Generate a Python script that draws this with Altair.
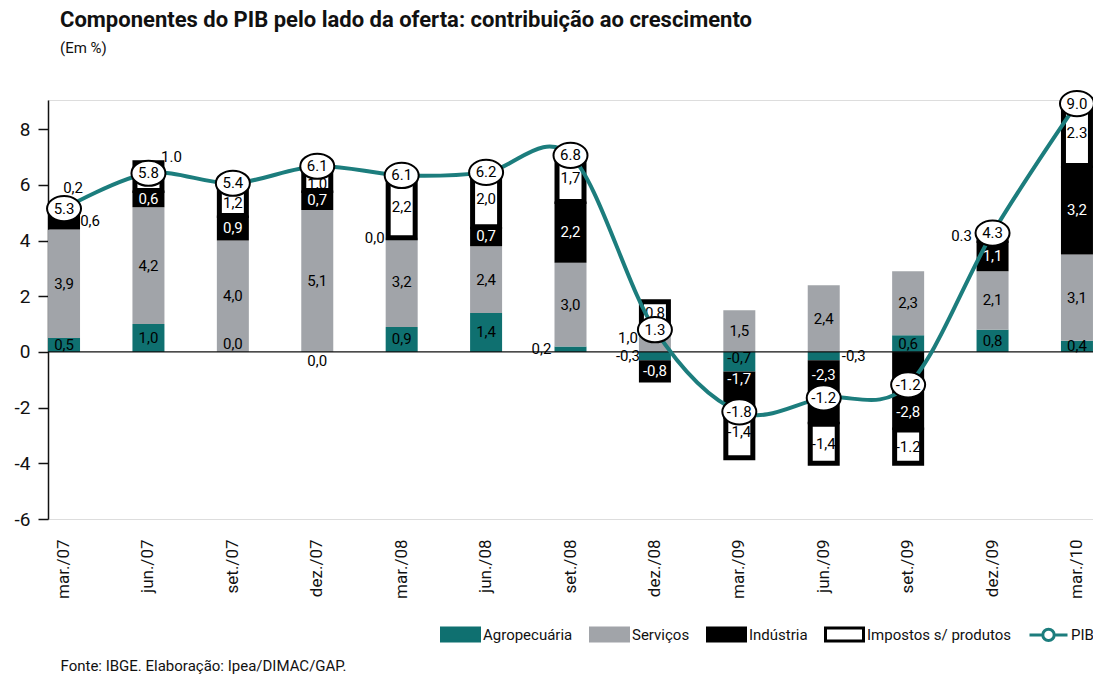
import altair as alt
import pandas as pd

# ---------------- data ----------------
periods = ["mar./07", "jun./07", "set./07", "dez./07", "mar./08", "jun./08", "set./08",
           "dez./08", "mar./09", "jun./09", "set./09", "dez./09", "mar./10"]
agro = [0.5, 1.0, 0.0, 0.0, 0.9, 1.4, 0.2, -0.3, -0.7, -0.3, 0.6, 0.8, 0.4]
serv = [3.9, 4.2, 4.0, 5.1, 3.2, 2.4, 3.0, 1.0, 1.5, 2.4, 2.3, 2.1, 3.1]
ind = [0.6, 0.6, 0.9, 0.7, 0.0, 0.7, 2.2, -0.8, -1.7, -2.3, -2.8, 1.1, 3.2]
imp = [0.2, 1.0, 1.2, 1.0, 2.2, 2.0, 1.7, 0.8, -1.4, -1.4, -1.2, 0.3, 2.3]
pib = [5.3, 5.8, 5.4, 6.1, 6.1, 6.2, 6.8, 1.3, -1.8, -1.2, -1.2, 4.3, 9.0]
pib_line = [5.15, 6.42, 6.06, 6.67, 6.34, 6.45, 7.06, 0.8, -2.15, -1.65, -1.18, 4.27, 8.92]

series_names = ["Agropecuária", "Serviços", "Indústria", "Impostos s/ produtos"]
legend_names = series_names + ["PIB"]

# ---------------- styles ----------------
FONT = "Roboto, Liberation Sans Narrow, sans-serif"
TEAL = "#0f7070"
LINE_TEAL = "#1c7d7d"
GRAY = "#a1a4a9"
bar_colors = {"Agropecuária": TEAL, "Serviços": GRAY, "Indústria": "#000000"}

dot_labels = {("jun./07", "Impostos s/ produtos"), ("set./09", "Impostos s/ produtos"),
              ("dez./09", "Impostos s/ produtos"), ("mar./10", "Impostos s/ produtos")}
# label placement (pixel offsets from the segment centre)
label_offsets = {
    ("mar./07", "Indústria"): (26, 0),
    ("mar./07", "Impostos s/ produtos"): (9, -22),
    ("jun./07", "Impostos s/ produtos"): (23, -20),
    ("set./07", "Agropecuária"): (0, -8),
    ("set./07", "Impostos s/ produtos"): (0, 4),
    ("dez./07", "Agropecuária"): (0, 9),
    ("dez./07", "Impostos s/ produtos"): (0, 7),
    ("mar./08", "Indústria"): (-27, 0),
    ("set./08", "Agropecuária"): (-29, 0),
    ("dez./08", "Serviços"): (-27, 0),
    ("dez./08", "Agropecuária"): (-27, 0),
    ("mar./09", "Agropecuária"): (0, -4),
    ("mar./09", "Indústria"): (0, -16),
    ("mar./09", "Impostos s/ produtos"): (0, -6),
    ("jun./09", "Agropecuária"): (30, 0),
    ("jun./09", "Indústria"): (0, -17),
    ("set./09", "Indústria"): (0, 21),
    ("dez./09", "Impostos s/ produtos"): (-31, 0),
}

# ---------------- stacked table ----------------
rows = []
for i, p in enumerate(periods):
    pos, neg = 0.0, 0.0
    for name, vals in zip(series_names, [agro, serv, ind, imp]):
        v = vals[i]
        if v >= 0:
            y0, y1 = pos, pos + v
            pos = y1
        else:
            y0, y1 = neg, neg + v
            neg = y1
        txt = f"{v:.1f}"
        if (p, name) not in dot_labels:
            txt = txt.replace(".", ",")
        off = label_offsets.get((p, name), (0, 0))
        lcolor = "white" if (name == "Indústria" and off[0] == 0) else "black"
        rows.append({"period": p, "series": name, "y0": y0, "y1": y1,
                     "ymid": (y0 + y1) / 2, "label": txt,
                     "dx": off[0], "dy": off[1], "lcolor": lcolor})
stack = pd.DataFrame(rows)

pib_df = pd.DataFrame({"period": periods, "line": pib_line,
                       "plabel": [f"{v:.1f}" for v in pib]})
legend_df = pd.DataFrame({"name": legend_names})

x_enc = alt.X("period:N", sort=periods,
              scale=alt.Scale(paddingInner=0.62, paddingOuter=0),
              axis=alt.Axis(labelAngle=-90, ticks=False, domain=False, labelPadding=20,
                            labelFontSize=17, labelFont=FONT, labelColor="#111",
                            title="Fonte: IBGE. Elaboração: Ipea/DIMAC/GAP.",
                            titleFont=FONT, titleFontSize=15, titleFontWeight="normal",
                            titleColor="#111", titleAnchor="start", titleAlign="left",
                            titleX=12, titleY=151, titleBaseline="alphabetic"))
y_scale = alt.Scale(domain=[-6, 9.05], nice=False, zero=False)
y_axis = alt.Axis(values=[-6, -4, -2, 0, 2, 4, 6, 8], grid=False, title=None,
                  labelExpr="'' + datum.value",
                  tickSize=10, tickColor="#111", domainColor="#111", domainWidth=1.5,
                  tickWidth=1.5, labelFontSize=19, labelFont=FONT, labelPadding=8,
                  labelColor="#111")

base = alt.Chart(stack)

layers = []
for name, col in bar_colors.items():
    layers.append(
        base.transform_filter(alt.datum.series == name)
        .mark_bar(size=32, color=col)
        .encode(x=x_enc, y=alt.Y("y0:Q", scale=y_scale, axis=y_axis), y2="y1:Q")
    )
layers.append(
    base.transform_filter(alt.datum.series == "Impostos s/ produtos")
    .mark_bar(size=27, fill="white", stroke="black", strokeWidth=5)
    .encode(x=x_enc, y=alt.Y("y0:Q", scale=y_scale, axis=y_axis), y2="y1:Q")
)

zero_rule = alt.Chart(pd.DataFrame({"z": [0]})).mark_rule(color="#111", strokeWidth=1.3).encode(
    y=alt.Y("z:Q", scale=y_scale, axis=y_axis))
layers.append(zero_rule)

# segment labels, one layer per placement/colour group
groups = stack[["dx", "dy", "lcolor"]].drop_duplicates().values.tolist()
for dx, dy, lc in groups:
    layers.append(
        base.transform_filter(
            (alt.datum.dx == dx) & (alt.datum.dy == dy) & (alt.datum.lcolor == lc))
        .mark_text(font=FONT, fontSize=15, color=lc, dx=dx, dy=dy, baseline="middle")
        .encode(x=x_enc, y=alt.Y("ymid:Q", scale=y_scale, axis=y_axis), text="label:N")
    )

pb = alt.Chart(pib_df)
layers.append(pb.mark_line(color=LINE_TEAL, strokeWidth=4, interpolate="cardinal").encode(
    x=x_enc, y=alt.Y("line:Q", scale=y_scale, axis=y_axis)))

ELLIPSE = "M-1,0A1,0.74 0 1,1 1,0A1,0.74 0 1,1 -1,0Z"
layers.append(pb.mark_point(shape=ELLIPSE, size=1156, filled=True, fill="white",
                            stroke="black", strokeWidth=2, opacity=1).encode(
    x=x_enc, y=alt.Y("line:Q", scale=y_scale, axis=y_axis)))
layers.append(pb.mark_text(font=FONT, fontSize=15, color="black", baseline="middle").encode(
    x=x_enc, y=alt.Y("line:Q", scale=y_scale, axis=y_axis), text="plabel:N"))

# legend (invisible points carrying the legend scales)
RECT = "M-1,-0.34H1V0.34H-1Z"
PIBSYM = "M-1,0H-0.3M0.3,0H1M-0.3,0A0.3,0.3 0 1,1 0.3,0A0.3,0.3 0 1,1 -0.3,0Z"
leg = alt.Legend(title=None, orient="none", legendX=392, legendY=514, direction="horizontal",
                 symbolSize=1444, symbolStrokeWidth=3, symbolOpacity=1, labelFont=FONT,
                 labelFontSize=15, labelColor="#111", labelOffset=2, columnPadding=11,
                 padding=0, symbolType="square")
layers.append(
    alt.Chart(legend_df).mark_point(filled=True, opacity=0).encode(
        fill=alt.Fill("name:N", sort=legend_names,
                      scale=alt.Scale(domain=legend_names,
                                      range=[TEAL, GRAY, "#000000", "#ffffff", "#ffffff"]),
                      legend=leg),
        stroke=alt.Stroke("name:N", sort=legend_names,
                          scale=alt.Scale(domain=legend_names,
                                          range=[TEAL, GRAY, "#000000", "#000000", LINE_TEAL]),
                          legend=leg),
        shape=alt.Shape("name:N", sort=legend_names,
                        scale=alt.Scale(domain=legend_names,
                                        range=[RECT, RECT, RECT, RECT, PIBSYM]),
                        legend=leg),
    )
)

chart = alt.layer(*layers).properties(
    width=1045, height=419,
    autosize=alt.AutoSizeParams(type="none"),
    padding={"left": 40, "top": 92, "right": 0, "bottom": 157},
    title=alt.TitleParams(
        text="Componentes do PIB pelo lado da oferta: contribuição ao crescimento",
        subtitle="(Em %)", anchor="start", frame="group", dx=12, offset=30,
        font=FONT, fontSize=22, fontWeight="bold", color="#111",
        subtitleFont=FONT, subtitleFontSize=15, subtitleColor="#111", subtitlePadding=9),
).configure_view(stroke=None).configure(background="white")

chart.save("out.html", embed_options={"renderer": "svg", "actions": False})
